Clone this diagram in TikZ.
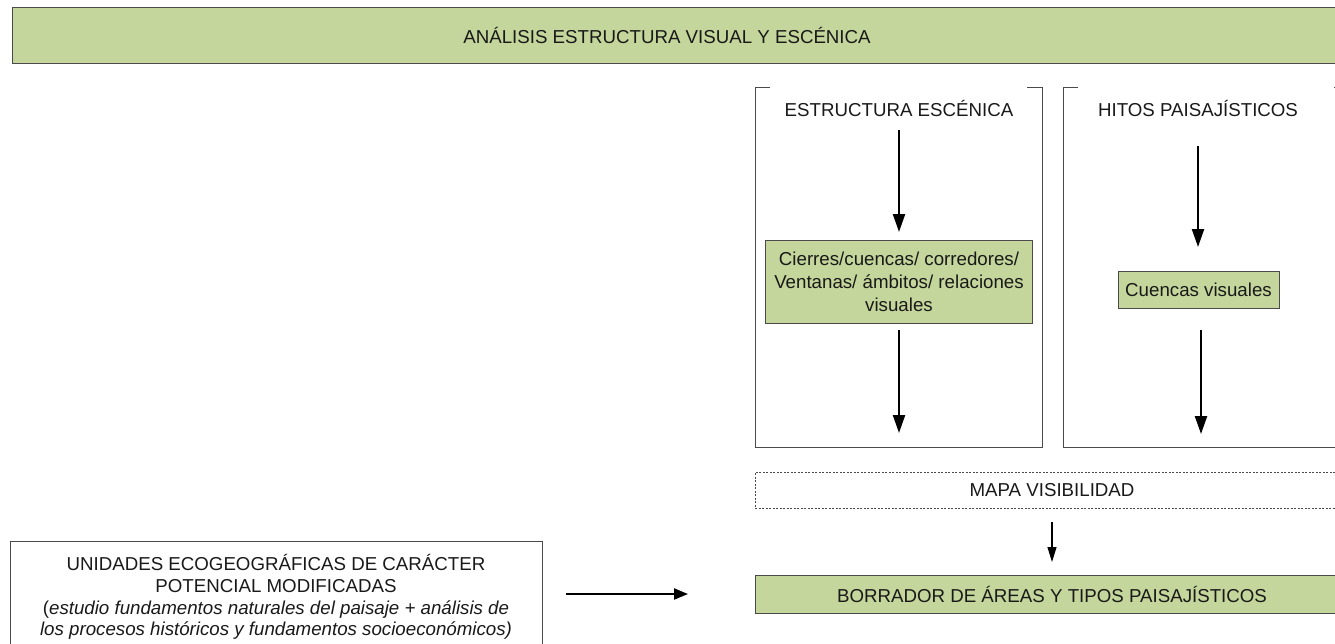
\documentclass[tikz,border=0pt]{standalone}
\usepackage{fontspec}
\setmainfont{Liberation Sans}
\usetikzlibrary{arrows.meta}
\definecolor{boxgreen}{HTML}{C4D69B}
\definecolor{linegray}{HTML}{4A4A4A}
\begin{document}
\begin{tikzpicture}[x=1pt,y=-1pt,
  font=\fontsize{18.7}{23}\selectfont,
  greenbox/.style={draw=linegray, line width=1pt, fill=boxgreen, inner sep=0pt, outer sep=0pt, text=black!90},
  openframe/.style={draw=none, inner sep=0pt, outer sep=0pt},
  frameline/.style={draw=linegray, line width=0.9pt},
  plainbox/.style={draw=linegray, line width=0.9pt, inner sep=0pt, outer sep=0pt},
  dotbox/.style={draw=linegray, line width=0.8pt, dash pattern=on 2pt off 1.5pt, inner sep=0pt, outer sep=0pt, text=black!90},
  lbl/.style={inner sep=0pt, outer sep=0pt, text=black!90},
  bigarrow/.style={line width=2.2pt, -{Triangle[length=18pt,width=12pt]}},
  sidearrow/.style={line width=2.2pt, -{Triangle[length=14pt,width=11pt]}},
  thinarrow/.style={line width=1.2pt, -{Triangle[length=15pt,width=9pt]}}]

\useasboundingbox (0,0) rectangle (1335,643);
\clip (0,0) rectangle (1335,643);

% header
\node[greenbox, minimum width=1338pt, minimum height=56pt, anchor=north west] (hdrbox) at (12,7) {};
\node[lbl] (hdr) at (667,35) {ANÁLISIS ESTRUCTURA VISUAL Y ESCÉNICA};

% open-top frames
\node[openframe, minimum width=287pt, minimum height=360pt, anchor=north west] (frameL) at (755,87) {};
\node[openframe, minimum width=286pt, minimum height=360pt, anchor=north west] (frameR) at (1063,87) {};
\foreach \f in {frameL,frameR}
  \draw[frameline] ([xshift=15pt]\f.north west) -- (\f.north west) -- (\f.south west)
     -- (\f.south east) -- (\f.north east) -- ([xshift=-15pt]\f.north east);

% titles
\node[lbl] (ee) at (899,108) {ESTRUCTURA ESCÉNICA};
\node[lbl] (hp) at (1198,108) {HITOS PAISAJÍSTICOS};

% green inner boxes
\node[greenbox, minimum width=267pt, minimum height=83pt, align=center] (cierres) at (899,281.5)
  {Cierres/cuencas/ corredores/\\Ventanas/ ámbitos/ relaciones\\visuales};
\node[greenbox, minimum width=161pt, minimum height=37pt] (cuencas) at (1198.5,289.5) {Cuencas visuales};

% mapa visibilidad
\node[dotbox, minimum width=594pt, minimum height=36pt, anchor=north west] (mapa) at (755,472) {MAPA VISIBILIDAD};

% borrador
\node[greenbox, minimum width=594pt, minimum height=38pt, anchor=north west] (borr) at (755,575) {BORRADOR DE ÁREAS Y TIPOS PAISAJÍSTICOS};

% unidades
\node[plainbox, minimum width=532pt, minimum height=130pt, anchor=north west] (unidbox) at (10,541) {};
\node[lbl, align=center, font=\fontsize{18.7}{21.7}\selectfont] (unid) at (276,597)
  {UNIDADES ECOGEOGRÁFICAS DE CARÁCTER\\POTENCIAL MODIFICADAS\\(\textit{estudio fundamentos naturales del paisaje + análisis de}\\\textit{los procesos históricos y fundamentos socioeconómicos)}};

% arrows
\draw[bigarrow, shorten <=14pt, shorten >=8pt] (ee.south) -- (ee.south |- cierres.north);
\draw[bigarrow, shorten <=7pt, shorten >=14pt] (cierres.south) -- (cierres.south |- frameL.south);
\draw[bigarrow, shorten <=30pt, shorten >=24pt] (hp.south) -- (hp.south |- cuencas.north);
\draw[bigarrow, shorten <=22pt, shorten >=13pt] ([xshift=2.5pt]cuencas.south) -- ([xshift=2.5pt]cuencas.south |- frameR.south);
\draw[thinarrow, shorten <=14pt, shorten >=13pt] (mapa.south) -- (mapa.south |- borr.north);
\draw[sidearrow, shorten <=24pt, shorten >=67pt] (unidbox.east |- borr.west) -- (borr.west);
\end{tikzpicture}
\end{document}
